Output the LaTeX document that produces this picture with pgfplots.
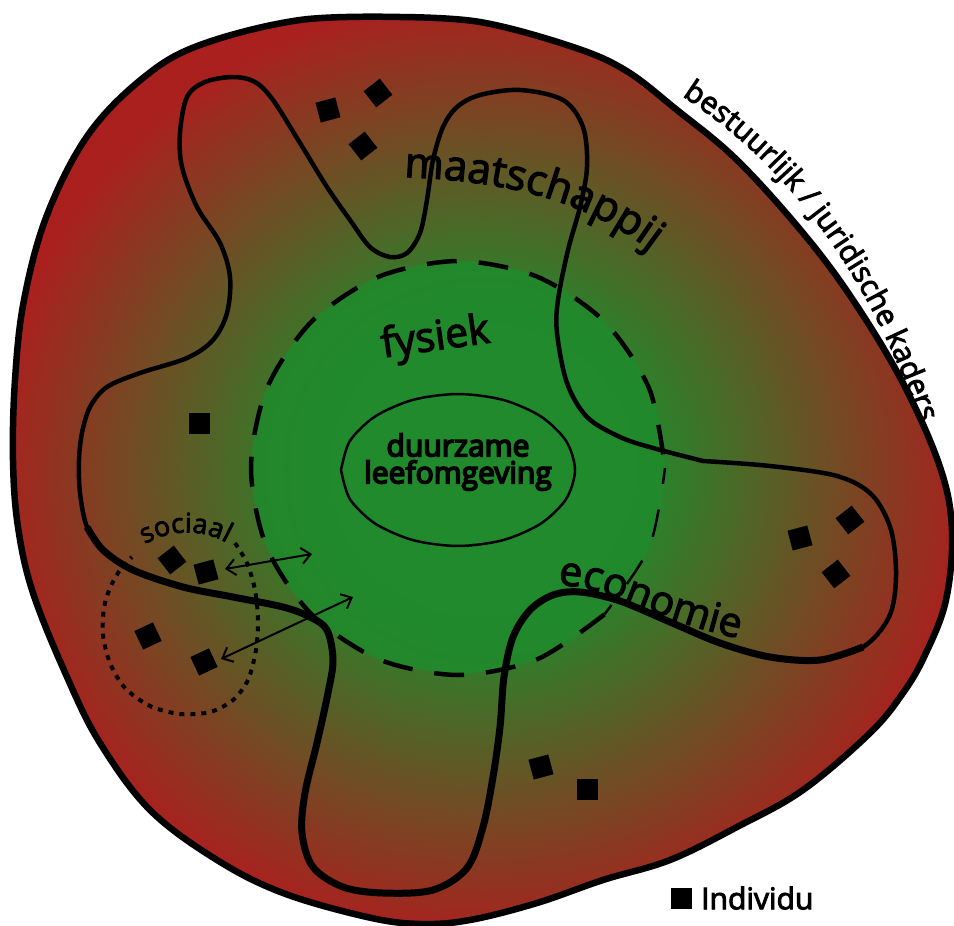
\documentclass[border=0pt]{standalone}
\usepackage{pgfplots}
\pgfplotsset{compat=1.18}
\usepackage{fontspec}
\setmainfont{Open Sans}
\newfontfamily\semi{Open Sans}[FakeBold=3]
\newfontfamily\bolder{Open Sans}[FakeBold=5.5]
\usetikzlibrary{decorations.text,arrows.meta}
\definecolor{cg}{RGB}{32,138,44}
\definecolor{cr}{RGB}{170,32,30}
\pgfdeclareradialshading{blobshade}{\pgfpoint{0bp}{0bp}}{color(0bp)=(cg); color(8bp)=(cg); color(26bp)=(cr); color(50bp)=(cr)}
\newcommand\fs[1]{\fontsize{#1}{#1}\selectfont}
\begin{document}
\begin{tikzpicture}
\begin{axis}[scale only axis, width=954pt, height=926pt,
  xmin=0, xmax=954, ymin=0, ymax=926, y dir=reverse, hide axis, clip=false]
% outer blob
\addplot[draw=black, line width=6.5pt, shade, shading=blobshade, smooth, tension=0.6] coordinates {
(400,17) (480,22) (570,46) (625,70) (677,110) (737,160) (803,233) (853,300) (903,383) (940,467) (952,530) (946,600) (925,655) (903,693) (870,733) (803,790) (737,827) (670,860) (603,880) (537,903) (470,920) (420,924) (367,917) (283,893) (217,860) (150,810) (100,743) (67,677) (33,593) (18,527) (13,460) (15,380) (24,300) (47,215) (88,135) (143,78) (200,45) (300,20) (400,17)};
% green disk
\addplot[draw=none, fill=cg, fill opacity=0.85, smooth] coordinates {
(458,675) (378.8,659.3) (311.6,614.4) (266.7,547.2) (251,468) (266.7,388.8) (311.6,321.6) (378.8,276.7) (458,261) (537.2,276.7) (604.4,321.6) (649.3,388.8) (665,468) (649.3,547.2) (604.4,614.4) (537.2,659.3) (458,675)};
% dashed circle (thick part and thin lower-right part)
\addplot[draw=black, line width=4.5pt, dash pattern=on 30pt off 22pt, smooth] coordinates {
(604.4,614.4) (537.2,659.3) (458,675) (378.8,659.3) (311.6,614.4) (266.7,547.2) (251,468) (266.7,388.8) (311.6,321.6) (378.8,276.7) (458,261) (537.2,276.7) (604.4,321.6) (649.3,388.8) (665,468)};
\addplot[draw=black, line width=2.5pt, dash pattern=on 28pt off 26pt, dash phase=12pt, smooth] coordinates {
(665,468) (649.3,547.2) (604.4,614.4)};
% wiggly boundary
\addplot[draw=black, line width=4.5pt, smooth, tension=0.55] coordinates {
(703,461) (770,466) (837,476) (872,495) (891,530) (896,577) (889,617) (863,647) (820,660) (770,657) (720,643) (670,622) (620,601) (580,592) (553,595) (530,610) (513,637) (504,677) (500,727) (493,777) (483,827) (467,868) (433,890) (383,893) (343,887) (313,867) (302,833) (305,793) (317,743) (328,693) (333,660) (327,630) (310,617) (283,607) (233,597) (183,587) (133,570) (103,550) (87,527) (80,493) (79,460) (82,433) (90,407) (107,387) (140,373) (187,358) (213,340) (227,313) (230,277) (220,243) (197,207) (182,167) (180,133) (187,97) (205,82) (233,77) (255,82) (273,100) (300,143) (327,187) (350,220) (370,247) (390,257) (407,253) (420,233) (427,200) (433,160) (443,127) (457,107) (480,95) (520,90) (563,100) (583,127) (587,167) (580,207) (568,250) (558,300) (557,333) (567,383) (587,417) (620,437) (653,448) (703,461)};
\addplot[draw=black, line width=7pt, smooth, tension=0.55] coordinates {
(863,647) (820,660) (770,657) (720,643) (670,622) (620,601) (580,592) (553,595) (530,610) (513,637) (504,677) (500,727) (493,777) (483,827) (467,868) (433,890) (383,893) (343,887) (313,867) (302,833) (305,793) (317,743) (328,693) (333,660) (327,630) (310,617) (283,607) (233,597) (183,587) (133,570) (103,550) (87,527)};
% inner ellipse
\addplot[draw=black, line width=2.5pt, smooth] coordinates {
(341,470) (349.9,499.1) (375.3,523.7) (413.2,540.2) (458,546) (502.8,540.2) (540.7,523.7) (566.1,499.1) (575,470) (566.1,440.9) (540.7,416.3) (502.8,399.8) (458,394) (413.2,399.8) (375.3,416.3) (349.9,440.9) (341,470)};
% dotted sociaal group
\addplot[draw=black, line width=4pt, dash pattern=on 5pt off 6pt, smooth] coordinates {
(235,543) (247,563) (255,590) (258,620) (256,650) (248,680) (233,700) (210,712) (180,714) (150,706) (125,688) (110,663) (103,635) (104,608) (110,588) (120,570) (132,557)};
% arrows
\addplot[line width=2pt, arrows={Straight Barb[length=9pt,width=16pt,line width=2pt]-Straight Barb[length=9pt,width=16pt,line width=2pt]}] coordinates {(225,569) (312,554)};
\addplot[line width=2pt, arrows={Straight Barb[length=9pt,width=16pt,line width=2pt]-Straight Barb[length=9pt,width=16pt,line width=2pt]}] coordinates {(221,659) (353,597)};
% individuals
\addplot[only marks, mark=square*, mark size=10pt, mark options={fill=black, draw=black, rotate=0}] coordinates {(199,423) (587,789) (681,898)};
\addplot[only marks, mark=square*, mark size=10pt, mark options={fill=black, draw=black, rotate=15}] coordinates {(328,110) (206,572) (800,538) (541,767)};
\addplot[only marks, mark=square*, mark size=10pt, mark options={fill=black, draw=black, rotate=25}] coordinates {(148,636) (204,662)};
\addplot[only marks, mark=square*, mark size=10pt, mark options={fill=black, draw=black, rotate=38}] coordinates {(378,93) (363,146) (172,560) (850,520) (836,574)};
% labels
\path[decorate, decoration={text along path, text={|\semi\fs{42}|maatschappij}}] (axis cs:404,177) .. controls (axis cs:525,182) and (axis cs:615,205) .. (axis cs:700,295);
\path[decorate, decoration={text along path, text={|\semi\fs{41}|economie}}] (axis cs:558,585) .. controls (axis cs:620,587) and (axis cs:650,627) .. (axis cs:800,650);
\path[decorate, decoration={text along path, text align=center, text={|\semi\fs{27}|sociaal}}] (axis cs:130,556) .. controls (axis cs:160,526) and (axis cs:210,524) .. (axis cs:242,554);
\path[decorate, decoration={text along path, text={|\semi\fs{30}|bestuurlijk / juridische kaders}}] (axis cs:682,96) .. controls (axis cs:762,148) and (axis cs:872,250) .. (axis cs:935,470);
\node[rotate=8, anchor=base] at (axis cs:437,350) {\semi\fs{41}fysiek};
\node[align=center, anchor=center, font={\bolder\fontsize{30}{27}\selectfont}] at (axis cs:458,462) {duurzame\\leefomgeving};
\node[anchor=west, inner sep=0pt] at (axis cs:701,898) {\semi\fs{30}Individu};
\end{axis}
\pgfresetboundingbox
\path[use as bounding box] (current axis.south west) rectangle (current axis.north east);
\end{tikzpicture}
\end{document}
